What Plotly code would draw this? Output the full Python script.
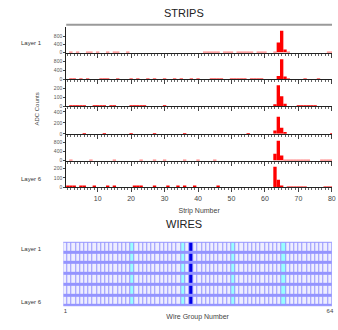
import plotly.graph_objects as go

W, H = 338, 330
def px(p): return p / W
def py(p): return 1 - p / H

strips = list(range(1, 81))

layer1 = [0,30,0,30,0,0,30,30,0,30, 0,0,30,0,30,30,0,0,30,0, 0,0,0,0,0,0,0,0,0,0, 0,0,0,0,0,0,0,0,0,0,
          0,30,30,30,30,30,0,30,30,30, 0,30,30,30,30,30,0,30,30,30, 0,0,30,480,1050,150,30,0,0,0, 0,0,0,0,0,0,0,0,25,25]
layer2 = [0,30,30,0,30,0,30,0,0,0, 30,30,30,0,0,30,0,0,0,30, 0,30,0,0,30,0,30,0,0,30, 0,0,30,0,30,0,0,30,0,30,
          0,0,0,30,30,30,30,0,0,30, 30,30,30,30,0,30,30,30,30,0, 0,0,0,150,900,120,30,0,0,0, 0,25,0,0,0,25,0,0,0,0]
layer3 = [0,8,8,8,8,8,0,0,8,8, 8,8,0,8,8,0,0,0,0,8, 8,8,8,8,0,0,0,0,0,8, 0,0,0,0,0,0,0,0,0,0,
          0,0,0,0,0,0,0,0,0,0, 0,0,0,0,0,0,0,0,0,0, 0,0,20,235,110,25,0,0,0,8, 8,8,8,8,8,0,0,0,0,0]
layer4 = [0,0,0,0,0,12,0,0,0,0, 0,12,0,0,0,0,0,0,0,12, 0,0,0,0,0,0,12,0,0,0, 0,0,0,0,0,12,0,0,0,0,
          0,0,0,0,0,0,0,0,0,0, 0,0,0,0,12,0,0,0,0,0, 0,0,60,310,110,20,0,0,0,0, 0,0,0,0,0,0,0,0,0,12]
layer5 = [0,30,0,0,0,0,0,30,0,0, 0,0,0,0,30,0,0,0,0,0, 0,0,30,0,0,0,30,0,0,30, 0,0,0,0,0,30,0,0,0,30,
          0,0,0,0,30,0,0,0,0,0, 0,0,0,0,0,0,0,0,0,0, 0,0,300,890,220,30,25,25,25,25, 25,25,25,0,0,0,25,25,25,25]
layer6 = [9,9,9,0,9,9,0,0,9,0, 0,0,9,0,9,0,0,0,0,0, 9,9,9,0,0,0,9,0,0,0, 9,0,0,9,0,9,0,0,9,0,
          0,0,0,0,0,9,0,0,0,0, 0,0,0,0,0,0,0,0,0,0, 0,0,220,80,20,0,8,8,8,8, 8,8,0,0,0,0,0,8,8,8]
layers = [layer1, layer2, layer3, layer4, layer5, layer6]

y_ticks = [[0, 400, 800], [0, 400, 800], [0, 100, 200], [0, 200, 400], [0, 400, 800], [0, 100, 200]]
y_ranges = [1250, 1155, 290, 470, 1155, 275]
x_ticks = [10, 20, 30, 40, 50, 60, 70, 80]

wire_groups = list(range(1, 65))
wire_layers = [1, 2, 3, 4, 5, 6]
wires_dead = [17, 29, 41, 53]
wires_hit = [31]

baselines = [53, 80, 107, 135, 162, 189]

fig = go.Figure()
layout = dict(width=W, height=H, margin=dict(l=0, r=0, t=0, b=0),
              paper_bgcolor="white", plot_bgcolor="rgba(0,0,0,0)", showlegend=False,
              font=dict(family="Liberation Sans, Arial, sans-serif", color="#333"))

for i, (vals, tv, rng, base) in enumerate(zip(layers, y_ticks, y_ranges, baselines), start=1):
    fig.add_trace(go.Bar(x=strips, y=vals, width=1, marker=dict(color="#ff0000", line=dict(width=0)),
                         xaxis=f"x{i}", yaxis=f"y{i}"))
    last = (i == 6)
    layout[f"xaxis{i}"] = dict(domain=[px(67), px(336)], range=[0.6, 80.05], anchor=f"y{i}",
                               showline=True, linecolor="#222", linewidth=1, ticks="outside",
                               ticklen=4, tickcolor="#444", tickwidth=1, tickvals=x_ticks,
                               minor=dict(ticks="outside", ticklen=2, dtick=1, tick0=0, tickcolor="#666"),
                               showticklabels=last, tickfont=dict(size=7, color="#444"),
                               showgrid=False, zeroline=False,
                               title=dict(text="Strip Number", font=dict(size=7, color="#444"), standoff=7) if last else None)
    layout[f"yaxis{i}"] = dict(domain=[py(base), py(base - 26)], range=[0, rng], anchor=f"x{i}",
                               showline=True, linecolor="#222", linewidth=1, ticks="outside", ticklen=2,
                               tickcolor="#444", tickvals=tv, tickfont=dict(size=5, color="#555"),
                               showgrid=False, zeroline=False)

# wires grid
z = []
for L in wire_layers:
    row = []
    for g in wire_groups:
        if g in wires_hit:
            row.append(2)
        elif g in wires_dead:
            row.append(1)
        else:
            row.append(0)
    z.append(row)

fig.add_trace(go.Heatmap(x=wire_groups, y=wire_layers, z=z, zmin=0, zmax=2, showscale=False,
                         xgap=1, ygap=3, hoverinfo="skip",
                         colorscale=[[0, "#eeeeff"], [0.33, "#eeeeff"], [0.33, "#99ffff"], [0.66, "#99ffff"],
                                     [0.66, "#0000e6"], [1, "#0000e6"]],
                         xaxis="x7", yaxis="y7"))
layout["xaxis7"] = dict(domain=[px(64), px(336)], range=[0.5, 64.5], anchor="y7", showline=False,
                        tickvals=[1, 64], ticktext=["1", "64"], ticks="", tickfont=dict(size=6, color="#444"),
                        showgrid=False, zeroline=False,
                        title=dict(text="Wire Group Number", font=dict(size=7, color="#444"), standoff=0))
layout["yaxis7"] = dict(domain=[py(309), py(244)], range=[6.5, 0.5], anchor="x7", showticklabels=False,
                        ticks="", showgrid=False, zeroline=False, showline=False)

layout["shapes"] = [
    dict(type="line", xref="paper", yref="paper", x0=px(67), x1=px(336), y0=py(25), y1=py(25),
         line=dict(color="#9a9a9a", width=2)),
    dict(type="rect", xref="x7", yref="y7", x0=0.5, x1=64.5, y0=0.5, y1=6.5, layer="below",
         fillcolor="#9494ff", line=dict(width=1, color="#aaaaff")),
]

ann = [
    dict(text="STRIPS", x=px(186), y=py(13), font=dict(size=11, color="#222")),
    dict(text="WIRES", x=px(186), y=py(226), font=dict(size=11, color="#222")),
    dict(text="ADC Counts", x=px(37), y=py(110), textangle=-90, font=dict(size=6, color="#444")),
    dict(text="Layer 1", x=px(32), y=py(43), font=dict(size=6, color="#333")),
    dict(text="Layer 6", x=px(32), y=py(181), font=dict(size=6, color="#333")),
    dict(text="Layer 1", x=px(32), y=py(251), font=dict(size=6, color="#333")),
    dict(text="Layer 6", x=px(32), y=py(305), font=dict(size=6, color="#333")),
]
for a in ann:
    a.update(xref="paper", yref="paper", showarrow=False, xanchor="center", yanchor="middle")
layout["annotations"] = ann

fig.update_layout(**layout)
fig.write_html("out.html", config={"displayModeBar": False},
               post_script="document.body.style.margin='0';document.body.style.overflow='hidden';")
